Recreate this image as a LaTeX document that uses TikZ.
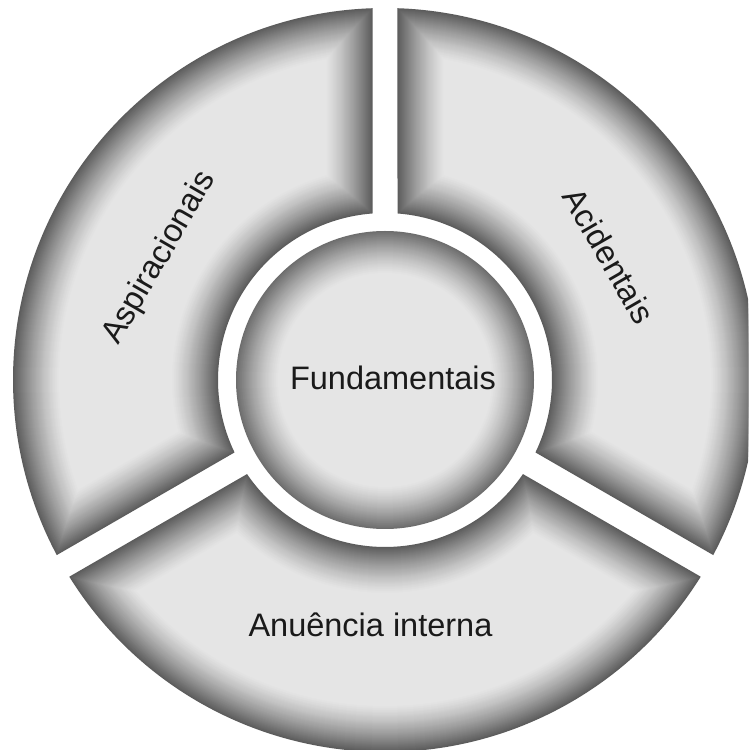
\documentclass[tikz,border=0pt]{standalone}
\usepackage{fontspec}
\setmainfont{Liberation Sans}
\definecolor{bevdark}{HTML}{5C5C5C}
\definecolor{bevlight}{HTML}{E6E6E6}
\definecolor{labelink}{HTML}{1A1A1A}

% Annular sector with an inner bevel: successive insets, dark at the rim, light inside.
% #1 = start angle, #2 = end angle (degrees)
\newcommand\bevelsector[2]{%
  \foreach \d in {0,...,46}{%
    \pgfmathsetmacro\ri{167+\d}%
    \pgfmathsetmacro\ro{372-\d}%
    \pgfmathsetmacro\hh{12.5+\d}%
    \pgfmathsetmacro\aoa{#1+asin(\hh/\ro)}%
    \pgfmathsetmacro\aob{#2-asin(\hh/\ro)}%
    \pgfmathsetmacro\aia{#1+asin(\hh/\ri)}%
    \pgfmathsetmacro\aib{#2-asin(\hh/\ri)}%
    \pgfmathtruncatemacro\mix{100*(1-\d/48)^1.3}%
    \fill[bevdark!\mix!bevlight]
      (\aoa:\ro pt) arc[start angle=\aoa, end angle=\aob, radius=\ro pt]
      -- (\aib:\ri pt) arc[start angle=\aib, end angle=\aia, radius=\ri pt] -- cycle;
  }}

% Central disc with the same inner bevel
\newcommand\beveldisc{%
  \foreach \d in {0,...,42}{%
    \pgfmathsetmacro\rc{149-\d}%
    \pgfmathtruncatemacro\mix{88*(1-\d/44)^1.3}%
    \fill[bevdark!\mix!bevlight] (0,0) circle[radius=\rc pt];
  }}

\tikzset{
  label text/.style={text=labelink, font=\fontsize{32.5}{36}\selectfont, inner sep=0pt},
}

\begin{document}
\begin{tikzpicture}[x=1pt, y=1pt]
  \useasboundingbox (0,0) rectangle (748,750);
  \clip (0,0) rectangle (748,750);
  \fill[white] (0,0) rectangle (748,750);

  \begin{scope}[shift={(385,370)}]
    \bevelsector{90}{210}
    \bevelsector{-30}{90}
    \bevelsector{210}{330}
    \beveldisc
  \end{scope}

  \node[label text, anchor=base] (fund) at (393,360) {Fundamentais};
  \node[label text, anchor=base] (anu) at (370.5,113) {Anuência interna};
  \node[label text, rotate=60] (asp) at (160,492) {Aspiracionais};
  \node[label text, rotate=-60] (acid) at (609,494) {Acidentais};
\end{tikzpicture}
\end{document}
